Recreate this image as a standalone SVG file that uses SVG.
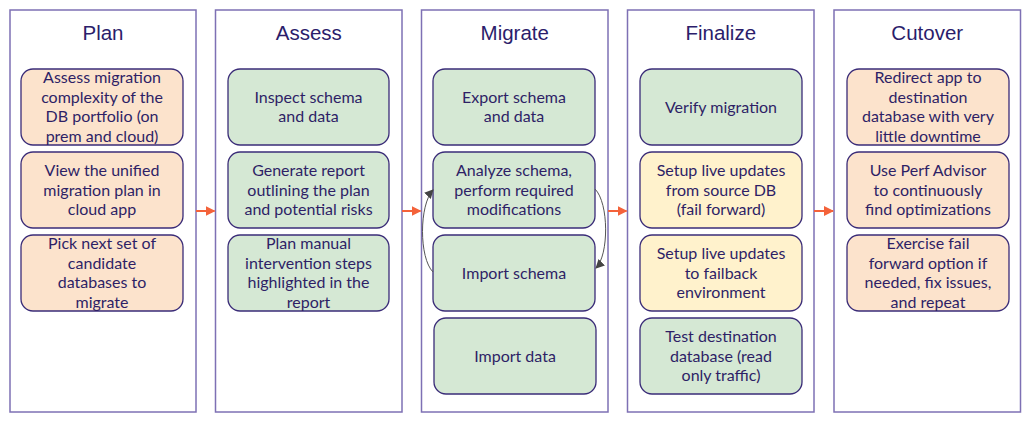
<svg xmlns="http://www.w3.org/2000/svg" width="1029" height="422" viewBox="0 0 1029 422">
<defs>
<style>
.col{fill:#fff;stroke:#7e70b4;stroke-width:1.5}
.ttl{font-family:"Liberation Sans",Arial,sans-serif;font-size:20.5px;fill:#2b1d6b;text-anchor:middle}
.box{stroke:#3a2c78;stroke-width:1.3}
.or{fill:#fce3cc}
.gr{fill:#d5e8d4}
.ye{fill:#fff2cc}
.t{font-family:Lato,"Noto Sans",sans-serif;font-size:16px;fill:#2e1f66;text-anchor:middle}
.flow{stroke:#f4623a;stroke-width:2;fill:none}
.loop{stroke:#555;stroke-width:1;fill:none}
</style>
<marker id="ah" viewBox="0 0 10 10" refX="9" refY="5" markerWidth="5" markerHeight="5" orient="auto" markerUnits="strokeWidth">
<path d="M0,0 L10,5 L0,10 z" fill="#f4623a"/>
</marker>
<marker id="ag" viewBox="0 0 10 10" refX="9" refY="5" markerWidth="9" markerHeight="9" orient="auto" markerUnits="strokeWidth">
<path d="M0,0 L10,5 L0,10 z" fill="#444"/>
</marker>
</defs>

<g id="col-plan">
<rect class="col" x="10" y="10" width="186" height="402"/>
<text class="ttl" x="103" y="40">Plan</text>
</g>
<g id="col-assess">
<rect class="col" x="215.5" y="10" width="186.5" height="402"/>
<text class="ttl" x="308.75" y="40">Assess</text>
</g>
<g id="col-migrate">
<rect class="col" x="421.5" y="10" width="186.5" height="402"/>
<text class="ttl" x="514.75" y="40">Migrate</text>
</g>
<g id="col-finalize">
<rect class="col" x="627.5" y="10" width="186.5" height="402"/>
<text class="ttl" x="720.75" y="40">Finalize</text>
</g>
<g id="col-cutover">
<rect class="col" x="834" y="10" width="186.5" height="402"/>
<text class="ttl" x="927.25" y="40">Cutover</text>
</g>

<g id="plan-1"><rect class="box or" x="21" y="69" width="162" height="76" rx="12"/>
<text class="t" x="102" y="83">Assess migration</text><text class="t" x="102" y="102.5">complexity of the</text><text class="t" x="102" y="122">DB portfolio (on</text><text class="t" x="102" y="141.5">prem and cloud)</text></g>
<g id="plan-2"><rect class="box or" x="21" y="152" width="162" height="76" rx="12"/>
<text class="t" x="102" y="176">View the unified</text><text class="t" x="102" y="195.5">migration plan in</text><text class="t" x="102" y="215">cloud app</text></g>
<g id="plan-3"><rect class="box or" x="21" y="235" width="162" height="76" rx="12"/>
<text class="t" x="102" y="249">Pick next set of</text><text class="t" x="102" y="268.5">candidate</text><text class="t" x="102" y="288">databases to</text><text class="t" x="102" y="307.5">migrate</text></g>

<g id="assess-1"><rect class="box gr" x="228" y="69" width="161" height="76" rx="12"/>
<text class="t" x="308.5" y="102.5">Inspect schema</text><text class="t" x="308.5" y="122">and data</text></g>
<g id="assess-2"><rect class="box gr" x="228" y="152" width="161" height="76" rx="12"/>
<text class="t" x="308.5" y="176">Generate report</text><text class="t" x="308.5" y="195.5">outlining the plan</text><text class="t" x="308.5" y="215">and potential risks</text></g>
<g id="assess-3"><rect class="box gr" x="228" y="235" width="161" height="76" rx="12"/>
<text class="t" x="308.5" y="249">Plan manual</text><text class="t" x="308.5" y="268.5">intervention steps</text><text class="t" x="308.5" y="288">highlighted in the</text><text class="t" x="308.5" y="307.5">report</text></g>

<g id="migrate-1"><rect class="box gr" x="433" y="69" width="162" height="76" rx="12"/>
<text class="t" x="514" y="102.5">Export schema</text><text class="t" x="514" y="122">and data</text></g>
<g id="migrate-2"><rect class="box gr" x="433" y="152" width="162" height="76" rx="12"/>
<text class="t" x="514" y="176">Analyze schema,</text><text class="t" x="514" y="195.5">perform required</text><text class="t" x="514" y="215">modifications</text></g>
<g id="migrate-3"><rect class="box gr" x="433" y="235" width="162" height="76" rx="12"/>
<text class="t" x="514" y="278.5">Import schema</text></g>
<g id="migrate-4"><rect class="box gr" x="434" y="318" width="162" height="76" rx="12"/>
<text class="t" x="515" y="361.5">Import data</text></g>

<g id="finalize-1"><rect class="box gr" x="640" y="69" width="162" height="76" rx="12"/>
<text class="t" x="721" y="112.5">Verify migration</text></g>
<g id="finalize-2"><rect class="box ye" x="640" y="152" width="162" height="76" rx="12"/>
<text class="t" x="721" y="176">Setup live updates</text><text class="t" x="721" y="195.5">from source DB</text><text class="t" x="721" y="215">(fail forward)</text></g>
<g id="finalize-3"><rect class="box ye" x="640" y="235" width="162" height="76" rx="12"/>
<text class="t" x="721" y="259">Setup live updates</text><text class="t" x="721" y="278.5">to failback</text><text class="t" x="721" y="298">environment</text></g>
<g id="finalize-4"><rect class="box gr" x="640" y="318" width="162" height="76" rx="12"/>
<text class="t" x="721" y="342">Test destination</text><text class="t" x="721" y="361.5">database (read</text><text class="t" x="721" y="381">only traffic)</text></g>

<g id="cutover-1"><rect class="box or" x="847" y="69" width="162" height="76" rx="12"/>
<text class="t" x="928" y="83">Redirect app to</text><text class="t" x="928" y="102.5">destination</text><text class="t" x="928" y="122">database with very</text><text class="t" x="928" y="141.5">little downtime</text></g>
<g id="cutover-2"><rect class="box or" x="847" y="152" width="162" height="76" rx="12"/>
<text class="t" x="928" y="176">Use Perf Advisor</text><text class="t" x="928" y="195.5">to continuously</text><text class="t" x="928" y="215">find optimizations</text></g>
<g id="cutover-3"><rect class="box or" x="847" y="235" width="162" height="76" rx="12"/>
<text class="t" x="928" y="249">Exercise fail</text><text class="t" x="928" y="268.5">forward option if</text><text class="t" x="928" y="288">needed, fix issues,</text><text class="t" x="928" y="307.5">and repeat</text></g>

<g id="connectors">
<path class="flow" d="M196,211 H214.5" marker-end="url(#ah)"/>
<path class="flow" d="M402,211 H420.5" marker-end="url(#ah)"/>
<path class="flow" d="M608,211 H626.5" marker-end="url(#ah)"/>
<path class="flow" d="M814,211 H833" marker-end="url(#ah)"/>
<path class="loop" d="M433,272 C419,258 419,205 433,190" marker-end="url(#ag)"/>
<path class="loop" d="M595,189 C609,203 609,255 596,268" marker-end="url(#ag)"/>
</g>
</svg>
